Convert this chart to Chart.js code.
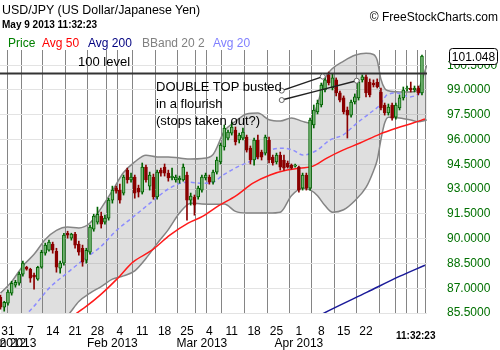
<!DOCTYPE html>
<html>
<head>
<meta charset="utf-8">
<script src="https://cdn.jsdelivr.net/npm/chart.js@4.4.0/dist/chart.umd.min.js"></script>
<style>
  body { margin: 0; background: #fff; }
  #wrap { position: relative; width: 500px; height: 350px; overflow: hidden; font-family: "Liberation Sans", Arial, sans-serif; }
  #wrap canvas { position: absolute; left: 0; top: 0; }
  .t { position: absolute; white-space: nowrap; line-height: 1; color: #000; }
</style>
</head>
<body>
<div id="wrap">
  <canvas id="chart" width="500" height="350"></canvas>
  <div class="t" style="left:2px;top:4px;font-size:12.4px;">USD/JPY (US Dollar/Japanese Yen)</div>
  <div class="t" style="left:2px;top:20px;font-size:10px;font-weight:bold;">May 9 2013 11:32:23</div>
  <div class="t" style="right:2px;top:11px;font-size:12px;">© FreeStockCharts.com</div>
  <div class="t" style="left:8px;top:37px;font-size:12px;color:#008000;">Price</div>
  <div class="t" style="left:42px;top:37px;font-size:12px;color:#ff0000;">Avg 50</div>
  <div class="t" style="left:88px;top:37px;font-size:12px;color:#000080;">Avg 200</div>
  <div class="t" style="left:142px;top:37px;font-size:12px;color:#808080;">BBand 20 2</div>
  <div class="t" style="left:213px;top:37px;font-size:12px;color:#8080ff;">Avg 20</div>
  <div class="t" style="left:78px;top:55px;font-size:13px;">100 level</div>
  <div class="t" style="left:156px;top:80px;font-size:13px;">DOUBLE TOP busted</div>
  <div class="t" style="left:156px;top:97px;font-size:13px;">in a flourish</div>
  <div class="t" style="left:156px;top:114px;font-size:13px;">(stops taken out?)</div>
  <div class="t" style="left:396px;top:331px;font-size:10px;font-weight:bold;">11:32:23</div>
</div>
<script>
// ─── DATA ─────────────────────────────────────────────────────────────────────
// one candle per session (Sun-Fri), Dec 28 2012 .. May 9 2013; x = session index
const candleOpen = [
  86.45, 85.85, 86.09, 86.70, 87.18, 87.30, 87.85, 88.27, 88.15, 87.79,
  87.55, 88.27, 89.12, 89.30, 89.67, 89.24, 88.21, 88.52, 90.33, 90.03,
  90.27, 89.67, 89.42, 88.70, 89.18, 90.58, 91.00, 91.36, 91.00, 91.24,
  92.33, 93.06, 92.94, 92.76, 94.15, 93.55, 93.73, 93.06, 92.82, 94.33,
  93.18, 93.73, 92.52, 94.15, 94.33, 93.97, 93.67, 93.55, 93.55, 93.55,
  93.85, 92.33, 92.52, 92.52, 92.94, 93.67, 93.73, 93.42, 94.03, 94.64,
  95.55, 96.09, 96.39, 96.58, 95.97, 96.09, 96.15, 95.48, 94.76, 95.97,
  95.24, 95.18, 95.97, 94.94, 94.64, 95.06, 94.76, 94.58, 94.45, 94.39,
  94.33, 93.06, 93.85, 93.06, 96.88, 97.67, 98.09, 99.00, 99.91, 99.12,
  99.61, 98.82, 98.52, 97.79, 97.48, 98.27, 98.52, 99.61, 99.79, 99.48,
  99.42, 99.48, 98.88, 98.09, 97.61, 98.09, 97.36, 97.91, 98.52, 99.06,
  99.12, 99.00, 99.12, 98.82
];
const candleHigh = [
  86.58, 86.21, 86.88, 87.42, 87.48, 87.97, 88.64, 88.33, 88.21, 87.91,
  88.33, 89.30, 89.73, 89.91, 89.79, 89.42, 88.64, 90.33, 90.45, 90.33,
  90.39, 89.85, 89.61, 89.42, 90.82, 91.48, 91.91, 91.61, 91.42, 92.45,
  93.18, 93.18, 93.30, 93.85, 94.27, 93.97, 93.85, 93.24, 94.58, 94.45,
  94.03, 93.91, 94.15, 94.27, 94.52, 94.15, 94.27, 93.85, 93.79, 94.52,
  94.03, 92.76, 92.64, 93.18, 93.85, 93.97, 93.85, 94.15, 94.94, 95.79,
  96.88, 96.58, 97.06, 96.76, 96.39, 96.70, 96.27, 95.61, 96.09, 96.27,
  95.36, 96.27, 96.15, 95.06, 95.18, 95.24, 95.06, 94.70, 94.52, 94.52,
  94.39, 93.97, 93.97, 97.30, 98.09, 98.39, 99.42, 99.73, 100.09, 99.97,
  99.73, 98.94, 98.64, 97.97, 98.39, 98.76, 99.61, 99.91, 99.91, 99.67,
  99.61, 99.67, 99.12, 98.21, 98.15, 98.21, 98.21, 98.70, 99.18, 99.24,
  99.48, 99.24, 99.24, 101.12
];
const candleLow = [
  85.73, 85.61, 85.97, 86.58, 87.06, 87.18, 87.73, 88.09, 87.36, 86.94,
  87.48, 88.21, 89.00, 89.24, 89.12, 87.97, 87.91, 88.39, 90.03, 89.91,
  89.42, 89.00, 88.33, 88.52, 89.06, 90.45, 90.88, 90.64, 90.88, 91.12,
  92.15, 92.76, 92.15, 92.64, 93.36, 93.42, 92.45, 92.52, 92.70, 93.42,
  92.94, 92.39, 92.39, 93.79, 93.79, 93.48, 93.55, 93.42, 93.36, 93.48,
  91.12, 92.03, 91.42, 92.39, 92.82, 93.55, 93.30, 93.30, 93.91, 94.52,
  95.36, 95.97, 96.27, 95.67, 95.79, 95.97, 95.24, 94.52, 94.45, 94.82,
  94.76, 95.06, 94.58, 94.45, 94.52, 94.15, 94.15, 94.27, 94.21, 94.33,
  92.82, 92.94, 92.94, 92.94, 96.70, 97.55, 97.97, 98.88, 99.30, 99.00,
  98.64, 98.27, 97.55, 96.09, 97.36, 98.15, 98.39, 99.48, 98.58, 98.58,
  99.18, 99.12, 97.79, 97.48, 97.48, 97.18, 97.24, 97.79, 98.39, 98.94,
  98.88, 98.88, 98.70, 98.70
];
const candleClose = [
  85.85, 86.15, 86.76, 87.30, 87.36, 87.85, 88.52, 88.15, 87.61, 87.67,
  88.27, 89.18, 89.61, 89.79, 89.30, 88.27, 88.52, 90.21, 90.21, 90.27,
  89.61, 89.18, 88.58, 89.30, 90.70, 91.36, 91.48, 90.88, 91.24, 92.33,
  92.94, 92.88, 92.33, 93.73, 93.55, 93.73, 92.76, 92.82, 94.33, 93.55,
  93.85, 92.52, 94.03, 93.97, 93.97, 93.67, 93.79, 93.73, 93.67, 94.33,
  92.33, 92.58, 92.03, 93.06, 93.73, 93.85, 93.42, 94.03, 94.76, 95.67,
  96.70, 96.45, 96.76, 95.85, 96.27, 96.45, 95.36, 94.76, 95.97, 94.94,
  94.94, 96.15, 94.76, 94.58, 95.06, 94.33, 94.27, 94.33, 94.27, 94.45,
  92.94, 93.85, 93.06, 97.18, 97.79, 98.21, 99.30, 99.61, 99.42, 99.73,
  98.82, 98.39, 97.67, 97.48, 98.27, 98.58, 99.48, 99.79, 98.82, 98.70,
  99.30, 99.18, 97.91, 97.61, 97.97, 97.30, 98.09, 98.52, 99.00, 99.12,
  99.00, 99.12, 98.82, 101.048
];

// Bollinger band 20/2, sampled along the session index
const bandIdx = [0, 3, 6, 9, 12, 15, 18, 21, 24, 27, 30, 33, 36, 39, 42, 45, 48, 51, 54, 57,
  60, 63, 66, 69, 72, 75, 78, 81, 83, 85, 87, 89, 92, 95, 98, 100, 101, 102, 103, 104,
  107, 110, 112, 114.3];
const bandUpper = [86.70, 87.40, 88.35, 89.05, 89.95, 90.50, 90.70, 90.65, 90.95, 91.85,
  92.90, 94.00, 94.65, 95.05, 94.95, 94.95, 94.88, 94.82, 94.85, 95.10,
  96.50, 97.10, 97.55, 97.60, 97.20, 97.12, 97.30, 97.10, 97.00, 98.15,
  99.70, 100.30, 100.75, 101.10, 101.22, 101.15, 100.80, 99.65, 99.10, 98.95,
  98.88, 98.88, 99.05, 100.50];
const bandLower = [83.60, 83.70, 83.80, 84.00, 84.40, 84.85, 85.35, 86.20, 86.70, 87.10,
  87.55, 87.75, 88.05, 88.80, 89.70, 90.55, 91.55, 92.15, 92.10, 92.08,
  92.10, 91.65, 91.55, 91.55, 91.55, 91.60, 92.60, 93.05, 92.95, 92.60,
  92.00, 91.60, 91.75, 92.30, 93.10, 94.10, 94.76, 96.00, 97.00, 97.35,
  97.30, 97.18, 97.08, 97.18];

const avg20Idx = [4.7, 8, 13.3, 17.8, 22.1, 26.7, 31.2, 35.5, 40.1, 45.4, 50, 54.3, 57, 59.7, 63.4,
  67.7, 72.3, 75.7, 78.4, 81.1, 84.9, 88.3, 91.8, 95.6, 99.1, 101.7, 103.6, 106.3, 109.8, 113.3];
const avg20 = [85.06, 85.67, 87.06, 87.91, 88.70, 89.48, 90.52, 91.30, 92.15, 93.06, 93.42, 93.36,
  93.42, 93.85, 94.33, 94.76, 95.36, 95.48, 95.36, 95.06, 95.36, 95.97, 96.27, 97.00, 97.61,
  98.09, 98.70, 98.82, 98.58, 98.88];

const avg50Idx = [19.2, 22.7, 26.7, 31.2, 35.5, 40.6, 45.4, 50.3, 54.3, 57.5, 63.4, 67.7, 72.3,
  76.8, 80.3, 83.8, 87.5, 91.8, 96.4, 101.7, 106.3, 110.6, 113.8];
const avg50 = [85.30, 85.85, 86.58, 87.55, 88.58, 89.30, 90.21, 90.94, 91.36, 91.85, 92.64, 93.36,
  93.85, 94.15, 94.27, 94.39, 94.88, 95.36, 95.79, 96.33, 96.70, 97.00, 97.24];

const avg200Idx = [83, 88.3, 98.3, 107.1, 113.8];
const avg200 = [85.06, 85.67, 86.76, 87.73, 88.39];

// axis labels
const weekTickIdx = [2, 8, 14, 20, 26, 32, 38, 44, 50, 56, 62, 68, 74, 80, 86, 92, 98];
const weekTickLabels = ['31', '7', '14', '21', '28', '4', '11', '18', '25', '4', '11', '18', '25', '1', '8', '15', '22'];
const monthTickIdx = [0, 3, 30, 54, 80];
const monthTickLabels = ['Dec 2012', 'Jan 2013', 'Feb 2013', 'Mar 2013', 'Apr 2013'];
const gridIdx = [0.75, 3, 8.1, 14.3, 20.3, 26.4, 30.4, 32.4, 38.5, 44.4, 50.4, 54.4, 56.3, 62.4,
  68.5, 74.6, 80.5, 86.5, 92.5, 98.6, 104.6, 107, 110.7, 112.9];

// annotations
const levelLine = 100;
const noteAIdx = [75.4, 86.4];
const noteAVal = [98.96, 99.81];
const noteBIdx = [75.4, 95.5];
const noteBVal = [98.39, 99.56];

// ─── CHART ────────────────────────────────────────────────────────────────────
const X_MIN = -0.13, X_MAX = 114.35;
const FONT = 'Liberation Sans';
const isUp = candleOpen.map((o, i) => candleClose[i] >= o);
const pts = (xs, ys) => xs.map((x, i) => ({ x, y: ys[i] }));
const noPad = s => { s.paddingLeft = 0; s.paddingRight = 0; s.paddingTop = 0; s.paddingBottom = 0; };

// bottom axes are stacked: grid-only axis, week labels, month labels
function xAxis(weight, height, extra) {
  return Object.assign({
    type: 'linear', position: 'bottom', min: X_MIN, max: X_MAX, offset: false, weight,
    grid: { display: false, drawTicks: false },
    border: { display: false },
    afterFit: s => { noPad(s); s.height = height; }
  }, extra);
}

const lineDefaults = { type: 'line', pointRadius: 0, borderWidth: 1.5, fill: false, cubicInterpolationMode: 'monotone' };

// price box for the last close on the right axis
const priceBox = {
  id: 'priceBox',
  afterDraw(chart) {
    const { ctx, scales: { y } } = chart;
    const last = candleClose[candleClose.length - 1];
    const py = Math.round(y.getPixelForValue(last)) + 0.5;
    ctx.save();
    ctx.beginPath();
    if (ctx.roundRect) ctx.roundRect(449.5, py - 8, 48, 16, 3); else ctx.rect(449.5, py - 8, 48, 16);
    ctx.fillStyle = '#fff';
    ctx.fill();
    ctx.strokeStyle = '#000';
    ctx.lineWidth = 1;
    ctx.stroke();
    ctx.fillStyle = '#000';
    ctx.font = '12px "' + FONT + '"';
    ctx.textAlign = 'center';
    ctx.textBaseline = 'middle';
    ctx.fillText(last.toFixed(3), 473.5, py + 1);
    ctx.restore();
  }
};

new Chart(document.getElementById('chart').getContext('2d'), {
  type: 'bar',
  data: {
    datasets: [
      Object.assign({}, lineDefaults, { label: 'BBand upper', data: pts(bandIdx, bandUpper), borderColor: '#858585',
        fill: '+1', backgroundColor: 'rgba(128,128,128,0.25)', order: 10 }),
      Object.assign({}, lineDefaults, { label: 'BBand lower', data: pts(bandIdx, bandLower), borderColor: '#858585', order: 10 }),
      Object.assign({}, lineDefaults, { label: 'Avg 20', data: pts(avg20Idx, avg20), borderColor: '#8c8cff', borderDash: [4, 3], order: 8 }),
      Object.assign({}, lineDefaults, { label: 'Avg 50', data: pts(avg50Idx, avg50), borderColor: '#ff1a1a', order: 7 }),
      Object.assign({}, lineDefaults, { label: 'Avg 200', data: pts(avg200Idx, avg200), borderColor: '#1a1a99', order: 7 }),
      {
        label: 'wick',
        data: candleLow.map((l, i) => ({ x: i, y: [l, candleHigh[i]] })),
        backgroundColor: isUp.map(u => u ? '#006400' : '#8b0000'),
        barThickness: 1, grouped: false, order: 3
      },
      {
        label: 'body',
        data: candleOpen.map((o, i) => ({ x: i, y: [o, candleClose[i]] })),
        backgroundColor: isUp.map(u => u ? '#79b879' : '#8b0000'),
        borderColor: isUp.map(u => u ? '#006400' : '#8b0000'),
        borderWidth: 1, borderSkipped: false, minBarLength: 1,
        barThickness: 3, grouped: false, order: 2
      },
      Object.assign({}, lineDefaults, { label: '100 level', data: [{ x: X_MIN, y: levelLine }, { x: X_MAX, y: levelLine }],
        borderColor: '#333', borderWidth: 2, order: 1 }),
      Object.assign({}, lineDefaults, { label: 'note A', data: pts(noteAIdx, noteAVal), borderColor: '#222',
        pointRadius: 2.5, pointBackgroundColor: '#fff', pointBorderColor: '#666', pointBorderWidth: 1, order: 0 }),
      Object.assign({}, lineDefaults, { label: 'note B', data: pts(noteBIdx, noteBVal), borderColor: '#222',
        pointRadius: 2.5, pointBackgroundColor: '#fff', pointBorderColor: '#666', pointBorderWidth: 1, order: 0 })
    ]
  },
  options: {
    responsive: false,
    maintainAspectRatio: false,
    devicePixelRatio: 1,
    animation: false,
    layout: { autoPadding: false, padding: { top: 50, left: 0, right: 0, bottom: 0 } },
    plugins: { legend: { display: false }, tooltip: { enabled: false } },
    scales: {
      xg: xAxis(0, 0, {
        grid: { display: true, drawTicks: false, color: '#858585', lineWidth: 1 },
        ticks: { display: false },
        afterBuildTicks: s => { s.ticks = gridIdx.map(v => ({ value: v })); }
      }),
      x: xAxis(1, 25, {
        ticks: { autoSkip: false, maxRotation: 0, padding: 13, color: '#000',
          font: { family: FONT, size: 12, lineHeight: 1 }, callback: (v, i) => weekTickLabels[i] },
        afterBuildTicks: s => { s.ticks = weekTickIdx.map(v => ({ value: v })); }
      }),
      x2: xAxis(2, 12, {
        ticks: { autoSkip: false, maxRotation: 0, padding: 0, color: '#000',
          font: { family: FONT, size: 12, lineHeight: 1 }, callback: (v, i) => monthTickLabels[i] },
        afterBuildTicks: s => { s.ticks = monthTickIdx.map(v => ({ value: v })); }
      }),
      y: {
        type: 'linear', position: 'right', min: 85.5, max: 101.42,
        grid: { color: '#e3e3e3', drawTicks: false },
        border: { display: false },
        ticks: { stepSize: 1.5, includeBounds: false, padding: 20, color: '#007000',
          font: { family: FONT, size: 12 }, callback: v => v.toFixed(4) },
        afterFit: s => { s.width = 73; noPad(s); }
      }
    }
  },
  plugins: [priceBox]
});
</script>
</body>
</html>
